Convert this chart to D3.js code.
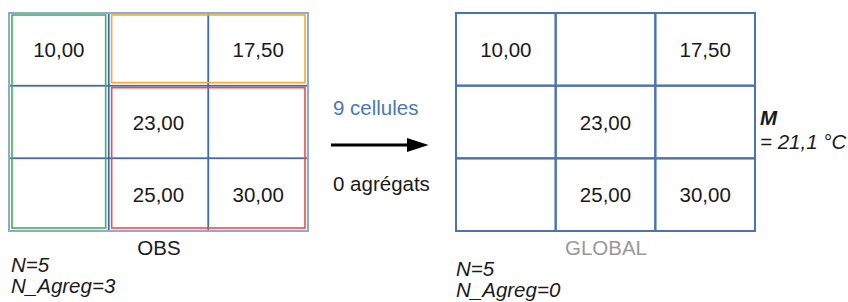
<!DOCTYPE html>
<html>
<head>
<meta charset="utf-8">
<script src="https://cdn.jsdelivr.net/npm/d3@7"></script>
<style>
  body { margin: 0; background: #fff; }
  svg { display: block; font-family: "Liberation Sans", Arial, sans-serif; }
</style>
</head>
<body>
<svg id="chart" width="848" height="302"></svg>
<script>
// Data
const rows = [0, 1, 2];
const cols = [0, 1, 2];
const cellValues = [
    [10.00, null, 17.50],
    [null, 23.00, null],
    [null, 25.00, 30.00],
];
const aggregates = [
    { name: 'green', colour: '#3fb34f', r0: 0, r1: 2, c0: 0, c1: 0 },
    { name: 'orange', colour: '#f7a833', r0: 0, r1: 0, c0: 1, c1: 2 },
    { name: 'red', colour: '#f04a4a', r0: 1, r1: 2, c0: 1, c1: 2 },
];
const leftTitle = 'OBS';
const rightTitle = 'GLOBAL';
const leftStats = ['N=5', 'N_Agreg=3'];
const rightStats = ['N=5', 'N_Agreg=0'];
const arrowTop = '9 cellules';
const arrowBottom = '0 agrégats';
const meanLabel = 'M';
const meanValue = '= 21,1 °C';

const fr = d3.formatLocale({ decimal: ',', thousands: ' ', grouping: [3], currency: ['', ' €'] });
const fmt = fr.format('.2f');

const svg = d3.select('#chart');
const fontSize = 20.5;

const cells = [];
rows.forEach(r => cols.forEach(c => cells.push({ r, c, v: cellValues[r][c] })));

function drawGrid(left, opts) {
    const x = d3.scaleBand().domain(cols).range([left, left + 299]);
    const y = d3.scaleBand().domain(rows).range([13, 231]);
    const g = svg.append('g').attr('class', 'grid');

    g.selectAll('rect.cell')
        .data(cells)
        .enter()
        .append('rect')
        .attr('class', 'cell')
        .attr('x', d => x(d.c))
        .attr('y', d => y(d.r))
        .attr('width', x.bandwidth())
        .attr('height', y.bandwidth())
        .style('fill', 'none')
        .style('stroke', opts.inner)
        .style('stroke-width', opts.innerWidth);

    if (opts.outer) {
        g.append('rect')
            .attr('x', left)
            .attr('y', 13)
            .attr('width', 299)
            .attr('height', 218)
            .style('fill', 'none')
            .style('stroke', opts.outer)
            .style('stroke-width', 2);
    }

    if (opts.aggregates) {
        const pad = 3;
        g.selectAll('rect.agg')
            .data(aggregates)
            .enter()
            .append('rect')
            .attr('class', 'agg')
            .attr('x', d => x(d.c0) + pad)
            .attr('y', d => y(d.r0) + pad - 1)
            .attr('width', d => x(d.c1) + x.bandwidth() - x(d.c0) - 2 * pad)
            .attr('height', d => y(d.r1) + y.bandwidth() - y(d.r0) - 2 * pad + 1)
            .style('fill', 'none')
            .style('stroke', d => d.colour)
            .style('stroke-width', 1.6);
    }

    g.selectAll('text.value')
        .data(cells.filter(d => d.v !== null))
        .enter()
        .append('text')
        .attr('class', 'value')
        .attr('x', d => x(d.c) + x.bandwidth() / 2)
        .attr('y', d => y(d.r) + y.bandwidth() / 2 + 7.5)
        .attr('text-anchor', 'middle')
        .style('font-size', fontSize + 'px')
        .style('fill', '#1a1a1a')
        .text(d => fmt(d.v));

    g.append('text')
        .attr('x', left + 150)
        .attr('y', 255)
        .attr('text-anchor', 'middle')
        .style('font-size', fontSize + 'px')
        .style('fill', opts.titleColour)
        .text(opts.title);

    g.selectAll('text.stat')
        .data(opts.stats)
        .enter()
        .append('text')
        .attr('class', 'stat')
        .attr('x', opts.statX)
        .attr('y', (d, i) => opts.statY + i * 21)
        .style('font-size', '20.5px')
        .style('font-style', 'italic')
        .style('fill', '#1a1a1a')
        .text(d => d);
}

drawGrid(9, {
    inner: '#3d6cb2', innerWidth: 1.5, outer: '#8fa9d4', aggregates: true,
    title: leftTitle, titleColour: '#1a1a1a', stats: leftStats, statX: 11, statY: 272,
});
drawGrid(456, {
    inner: '#4a73b3', innerWidth: 2, outer: null, aggregates: false,
    title: rightTitle, titleColour: '#999999', stats: rightStats, statX: 456, statY: 276,
});

// Arrow between grids
svg.append('defs').append('marker')
    .attr('id', 'head')
    .attr('viewBox', '0 0 10 10')
    .attr('preserveAspectRatio', 'none')
    .attr('refX', 0)
    .attr('refY', 5)
    .attr('markerWidth', 7.2)
    .attr('markerHeight', 4.6)
    .attr('markerUnits', 'strokeWidth')
    .attr('orient', 'auto')
    .append('path')
    .attr('d', 'M0,0 L10,5 L0,10 Z')
    .style('fill', '#000');

svg.append('line')
    .attr('x1', 331)
    .attr('x2', 407)
    .attr('y1', 145)
    .attr('y2', 145)
    .style('stroke', '#000')
    .style('stroke-width', 3)
    .attr('marker-end', 'url(#head)');

svg.append('text')
    .attr('x', 333)
    .attr('y', 115)
    .style('font-size', fontSize + 'px')
    .style('fill', '#4a78b4')
    .text(arrowTop);

svg.append('text')
    .attr('x', 333)
    .attr('y', 191)
    .style('font-size', fontSize + 'px')
    .style('fill', '#1a1a1a')
    .text(arrowBottom);

// Mean label
svg.append('text')
    .attr('x', 760)
    .attr('y', 125)
    .style('font-size', '20.5px')
    .style('font-style', 'italic')
    .style('font-weight', 'bold')
    .style('fill', '#1a1a1a')
    .text(meanLabel);

svg.append('text')
    .attr('x', 760)
    .attr('y', 149)
    .style('font-size', '20.5px')
    .style('font-style', 'italic')
    .style('fill', '#1a1a1a')
    .text(meanValue);
</script>
</body>
</html>
